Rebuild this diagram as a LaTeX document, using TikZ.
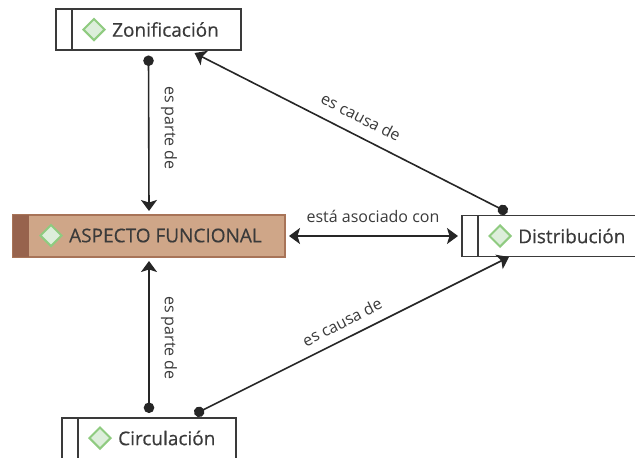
\documentclass[tikz,border=0pt]{standalone}
\usepackage{fontspec}
\setmainfont{Open Sans}
\usetikzlibrary{arrows.meta,calc,shapes.geometric}
\definecolor{inkc}{HTML}{3A3A3A}
\definecolor{tanfill}{HTML}{CFA688}
\definecolor{tanedge}{HTML}{A87458}
\definecolor{tandark}{HTML}{97634D}
\definecolor{gemfill}{HTML}{DDEEDB}
\definecolor{gemedge}{HTML}{8FCB80}
\tikzset{
  box/.style={draw=inkc,line width=1.6pt,fill=white,inner sep=0pt,outer sep=0pt,anchor=north west},
  mainbox/.style={draw=tanedge,line width=1.5pt,fill=tanfill,inner sep=0pt,outer sep=0pt,anchor=north west},
  gem/.style={diamond,draw=gemedge,line width=2pt,fill=gemfill,minimum width=22pt,minimum height=22pt,inner sep=0pt},
  title/.style={anchor=west,inner sep=0pt,text=inkc,font=\fontsize{19}{22}\selectfont\addfontfeature{FakeBold=0.4}},
  rel/.style={inner sep=0pt,text=inkc,font=\fontsize{16}{19}\selectfont},
  link/.style={draw=black!85,line width=1.6pt},
  dot/.style={{Circle[length=10.5pt,width=10.5pt]}-{Stealth[length=11pt,width=16pt,inset=2.5pt]}},
  both/.style={{Stealth[length=11pt,width=16pt,inset=2.5pt]}-{Stealth[length=11pt,width=16pt,inset=2.5pt]}},
}
\begin{document}
\begin{tikzpicture}[x=1pt,y=-1pt]
\useasboundingbox (0,0) rectangle (635,458);
\clip (0,0) rectangle (635,458);
% boxes
\node[box,minimum width=185pt,minimum height=41pt] (zon) at (56,9) {};
\node[mainbox,minimum width=272pt,minimum height=42pt] (asp) at (13,215) {};
\node[box,minimum width=190pt,minimum height=41pt] (dis) at (462,215.5) {};
\node[box,minimum width=174pt,minimum height=60pt] (cir) at (62,418) {};
% side bars
\draw[inkc,line width=1.6pt] ($(zon.north west)+(16,0)$) -- ($(zon.south west)+(16,0)$);
\draw[inkc,line width=1.6pt] ($(dis.north west)+(16,0)$) -- ($(dis.south west)+(16,0)$);
\draw[inkc,line width=1.6pt] ($(cir.north west)+(16,0)$) -- ($(cir.south west)+(16,0)$);
\fill[tandark] (asp.north west) rectangle ($(asp.south west)+(16,0)$);
% markers
\node[gem] (gz) at (94,29.5) {};
\node[gem] (ga) at (51,235.5) {};
\node[gem] (gd) at (500,236) {};
\node[gem] (gc) at (100,438) {};
% titles
\node[title] (tz) at (112,29.5) {Zonificación};
\node[title] (ta) at (69,235.5) {ASPECTO FUNCIONAL};
\node[title] (td) at (518,236) {Distribución};
\node[title] (tc) at (118,438) {Circulación};
% connectors
\draw[link,dot] ([yshift=-5.5pt]zon.south) -- ([yshift=4pt]asp.north);
\draw[link,dot] ([xshift=87pt,yshift=5pt]cir.north west) -- ([yshift=-4pt]asp.south);
\draw[link,dot] ([xshift=45.5pt,yshift=3.2pt]dis.north west) -- ([xshift=138.5pt,yshift=-3pt]zon.south west);
\draw[link,dot] ([xshift=132.5pt,yshift=3.8pt]cir.north west) -- ([xshift=47pt,yshift=-0.5pt]dis.south west);
\draw[link,both] ([xshift=4pt]asp.east) -- ([xshift=-4pt]dis.west);
% relation labels
\node[rel,rotate=-90] (l1) at (169,128) {es parte de};
\node[rel,rotate=-90] (l2) at (169,338) {es parte de};
\node[rel,rotate=-27] (l3) at (361,117) {es causa de};
\node[rel,rotate=27] (l4) at (342,322) {es causa de};
\node[rel] (l5) at (373,216) {está asociado con};
\end{tikzpicture}
\end{document}
